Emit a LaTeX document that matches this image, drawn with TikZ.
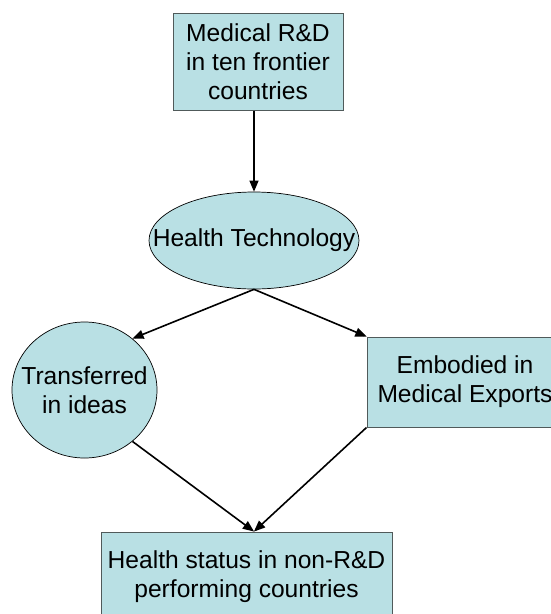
\documentclass[tikz,border=0pt]{standalone}
\usepackage{fontspec}
\setmainfont{Liberation Sans}
\usetikzlibrary{arrows, shapes.geometric}
\definecolor{boxfill}{RGB}{185,224,228}
\definecolor{boxline}{RGB}{80,90,90}
\newcommand{\nowidth}[1]{\makebox[0pt]{#1}}

\begin{document}
\begin{tikzpicture}[x=1pt,y=-1pt,
  box/.style={draw=boxline,line width=1pt,fill=boxfill,align=center,inner sep=0pt,
    font=\fontsize{24.6}{29}\selectfont},
  blob/.style={ellipse,draw=black,line width=0.7pt,fill=boxfill,align=center,inner sep=0pt,
    font=\fontsize{24.6}{29}\selectfont},
  flow/.style={line width=1.6pt,-triangle 45}]
\useasboundingbox (0,0) rectangle (550,614);
\node[box,minimum width=170,minimum height=97] (rnd) at (258,61.5)
  {Medical R\&D\\ in ten frontier\\countries};
\node[blob,minimum width=210,minimum height=97] (htech) at (254,240.5) {\nowidth{Health Technology}};
\node[blob,minimum width=145,minimum height=136] (ideas) at (84.5,390)
  {\nowidth{Transferred}\\\nowidth{in ideas}};
\node[box,minimum width=196,minimum height=90] (exports) at (465,382)
  {Embodied in\\Medical Exports};
\node[box,minimum width=291,minimum height=90] (status) at (246.5,577)
  {Health status in non-R\&D\\performing countries};
\draw[flow] (htech.north |- rnd.south) -- (htech.north);
\draw[flow] (htech.south) -- (ideas.47);
\draw[flow] (htech.south) -- (exports.north west);
\draw[flow] (ideas.-47) -- (status.north -| htech.south);
\draw[flow] (exports.south west) -- (status.north -| htech.south);
\end{tikzpicture}
\end{document}
